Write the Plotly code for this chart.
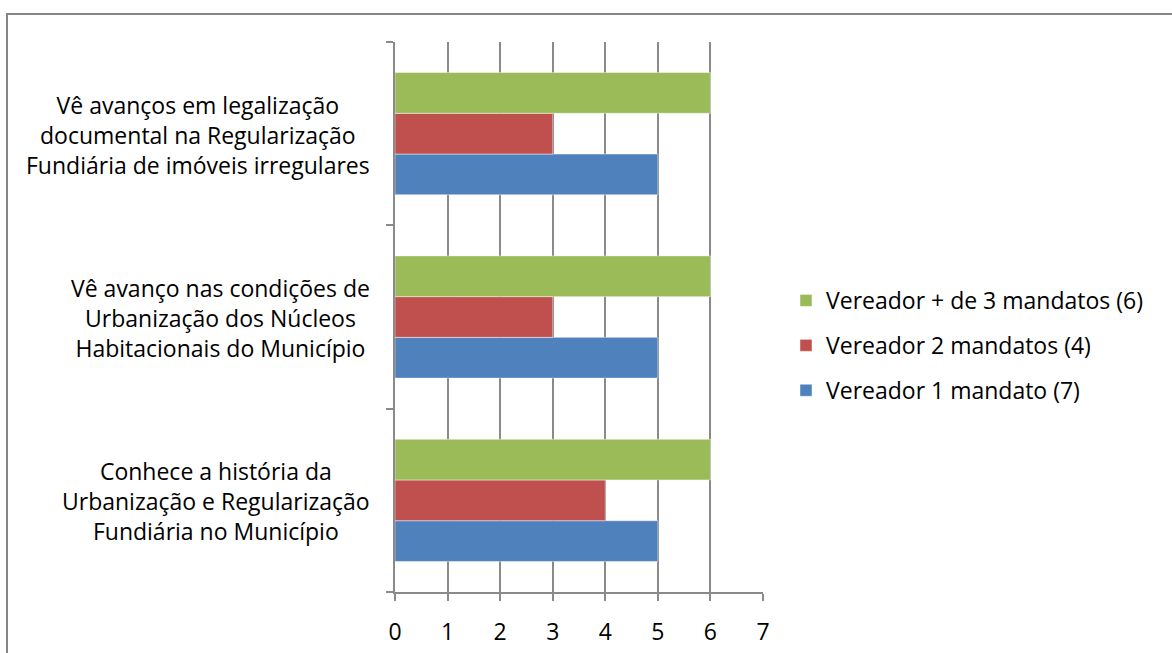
import plotly.graph_objects as go

# Categories listed bottom-to-top as they appear on the vertical axis
categories = [
    "Conhece a história da<br>Urbanização e Regularização<br>Fundiária no Município",
    "Vê avanço nas condições de<br>Urbanização dos Núcleos<br>Habitacionais do Município",
    "Vê avanços em legalização<br>documental na Regularização<br>Fundiária de imóveis irregulares",
]
category_keys = ["hist", "urb", "legal"]

series_names = [
    "Vereador 1 mandato (7)",
    "Vereador 2 mandatos (4)",
    "Vereador + de 3 mandatos (6)",
]
values_1_mandato = [5, 5, 5]
values_2_mandatos = [4, 3, 3]
values_3_mais = [6, 6, 6]
series_values = [values_1_mandato, values_2_mandatos, values_3_mais]
series_colors = ["#4F81BD", "#C0504D", "#9BBB59"]

x_ticks = [0, 1, 2, 3, 4, 5, 6, 7]

FONT = "Open Sans"
FS = 23
W, H = 1172, 653
ML, MR, MT, MB = 395, 409, 42, 61
PW, PH = W - ML - MR, H - MT - MB


def px_x(px):
    return (px - ML) / PW


def px_y(py):
    return (H - MB - py) / PH


fig = go.Figure()
for name, vals, color in zip(series_names, series_values, series_colors):
    fig.add_trace(go.Bar(
        y=category_keys,
        x=vals,
        name=name,
        orientation="h",
        marker=dict(color=color, line=dict(color="rgba(255,255,255,0.45)", width=1)),
        legendgroup=name,
        legendrank=len(series_names) - series_names.index(name),
    ))

# Centered multi-line category labels, right edge against the axis
for key, label in zip(category_keys, categories):
    fig.add_annotation(
        x=px_x(372), xref="paper", xanchor="right",
        y=key, yref="y", yanchor="middle", yshift=-1,
        text=label, align="center", showarrow=False,
        font=dict(family=FONT, size=FS, color="#000000"),
    )

# Outer chart frame
fig.add_shape(
    type="rect", xref="paper", yref="paper",
    x0=px_x(7), y0=px_y(670), x1=px_x(1190), y1=px_y(14),
    line=dict(color="#868686", width=2), fillcolor="rgba(0,0,0,0)",
)

fig.update_layout(
    width=W, height=H,
    margin=dict(l=ML, r=MR, t=MT, b=MB, autoexpand=False),
    paper_bgcolor="white", plot_bgcolor="white",
    barmode="group", bargap=1 / 3, bargroupgap=0,
    font=dict(family=FONT, size=FS, color="#000000"),
    showlegend=True,
    legend=dict(
        x=px_x(786), y=px_y(279), xanchor="left", yanchor="top",
        traceorder="grouped", tracegroupgap=12,
        font=dict(family=FONT, size=FS, color="#000000"),
        itemwidth=30, bgcolor="rgba(0,0,0,0)",
    ),
    xaxis=dict(
        range=[0, 7], tickvals=x_ticks, ticktext=[str(t) for t in x_ticks],
        automargin=False,
        showgrid=True, gridcolor="#8a8a8a", gridwidth=1.5,
        zeroline=False, showline=True, linecolor="#8a8a8a", linewidth=1.5,
        ticks="outside", ticklen=7, tickcolor="#8a8a8a", tickwidth=1.5,
        ticklabelstandoff=12,
        tickfont=dict(family=FONT, size=FS, color="#000000"),
    ),
    yaxis=dict(
        categoryorder="array", categoryarray=category_keys,
        range=[-0.5, 2.5], showticklabels=False, automargin=False,
        showgrid=False, zeroline=False,
        showline=True, linecolor="#8a8a8a", linewidth=1.5,
        ticks="outside", tickson="boundaries", ticklen=7,
        tickcolor="#8a8a8a", tickwidth=1.5,
    ),
)

fig.write_html("out.html")
